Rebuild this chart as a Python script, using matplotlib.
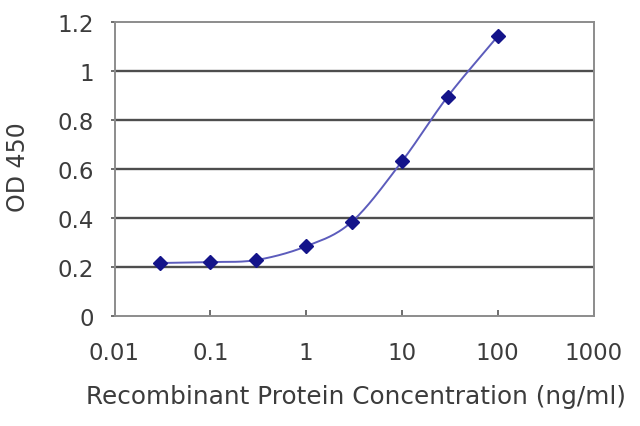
import numpy as np
import matplotlib
matplotlib.use("Agg")
import matplotlib.pyplot as plt

conc = [0.03, 0.1, 0.3, 1, 3, 10, 30, 100]
od450 = [0.216, 0.220, 0.228, 0.284, 0.384, 0.630, 0.894, 1.140]
x_ticks = [0.01, 0.1, 1, 10, 100, 1000]
x_tick_labels = ["0.01", "0.1", "1", "10", "100", "1000"]
y_ticks = [0, 0.2, 0.4, 0.6, 0.8, 1, 1.2]
y_tick_labels = ["0", "0.2", "0.4", "0.6", "0.8", "1", "1.2"]

plt.rcParams['font.family'] = ['DejaVu Sans']
txt = '#3c3c3c'

fig = plt.figure(figsize=(6.4, 4.27), dpi=100)
ax = fig.add_axes([114.5/640, 1-317/427, 479/640, 294.4/427])

# smooth line (Catmull-Rom in log-x space, like Excel's smoothed line)
lx = np.log10(conc)
y = np.array(od450)
P = np.column_stack([lx, y])
P = np.vstack([P[0] - (P[1]-P[0]), P, P[-1] + (P[-1]-P[-2])])
xs, ys = [], []
t = np.linspace(0, 1, 30)[:, None]
for i in range(1, len(P)-2):
    p0, p1, p2, p3 = P[i-1], P[i], P[i+1], P[i+2]
    seg = 0.5*((2*p1) + (-p0+p2)*t + (2*p0-5*p1+4*p2-p3)*t**2 + (-p0+3*p1-3*p2+p3)*t**3)
    xs.extend(seg[:, 0]); ys.extend(seg[:, 1])
ax.plot(10**np.array(xs), ys, color='#5c5cbc', lw=1.4, zorder=3)
ax.plot(conc, od450, linestyle='none', marker='D', markersize=7.5, color='#14148a', zorder=4)

ax.set_xscale('log')
ax.set_xlim(0.01, 1000)
ax.set_ylim(0, 1.2)
ax.set_xticks(x_ticks)
ax.set_xticklabels(x_tick_labels)
ax.minorticks_off()
ax.set_yticks(y_ticks)
ax.set_yticklabels(y_tick_labels)
for v in y_ticks[1:-1]:
    ax.axhline(v, color='#4e4e4e', lw=1.7, zorder=1)
for s in ax.spines.values():
    s.set_color('#8c8c8c')
    s.set_linewidth(1.4)
ax.tick_params(axis='x', direction='in', length=4, width=1.2, color='#555555', labelsize=16.5, labelcolor=txt, pad=18)
ax.tick_params(axis='y', direction='out', length=3, width=1.2, color='#555555', labelsize=16.5, labelcolor=txt, pad=12)
fig.text(356/640, 1-397/427, "Recombinant Protein Concentration (ng/ml)", fontsize=17.8,
         color=txt, ha='center', va='center')
fig.text(18.5/640, 1-167.5/427, "OD 450", fontsize=17, color=txt, ha='center', va='center', rotation=90)

fig.savefig("out.png", dpi=100)
